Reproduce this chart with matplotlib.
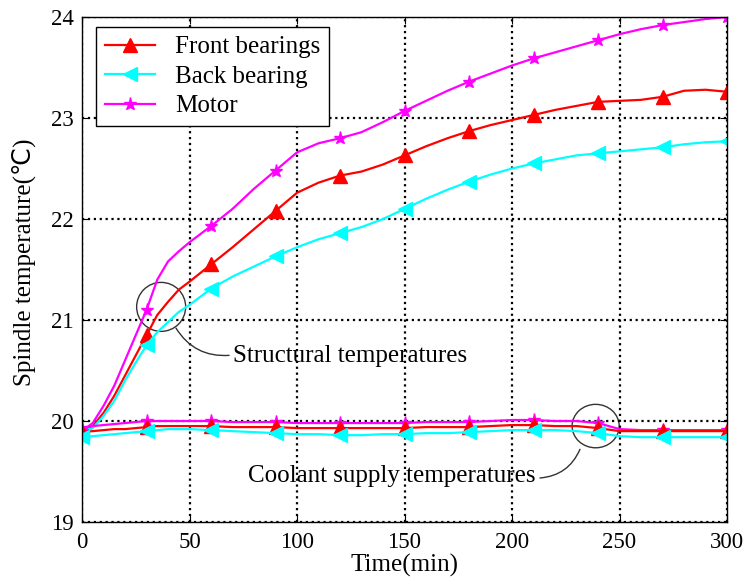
import numpy as np
import matplotlib
matplotlib.use("Agg")
import matplotlib.pyplot as plt
from matplotlib.patches import Ellipse

plt.rcParams['font.family'] = ['Liberation Serif', 'DejaVu Sans']

# tiempo (min)
tiempo = [0, 5, 10, 15, 20, 25, 30, 35, 40, 45, 50, 60, 70, 80, 90, 100, 110, 120,
          130, 140, 150, 160, 170, 180, 190, 200, 210, 220, 230, 240, 250, 260,
          270, 280, 290, 300]

# temperaturas estructurales
front_struct = [19.9, 19.95, 20.08, 20.25, 20.45, 20.65, 20.85, 21.05, 21.18, 21.3, 21.38,
                21.55, 21.72, 21.9, 22.08, 22.26, 22.36, 22.43, 22.47, 22.54, 22.63,
                22.72, 22.8, 22.87, 22.93, 22.98, 23.03, 23.08, 23.12, 23.16, 23.17,
                23.18, 23.21, 23.27, 23.28, 23.26]
back_struct = [19.88, 19.93, 20.05, 20.2, 20.4, 20.58, 20.75, 20.88, 20.98, 21.08, 21.15,
               21.31, 21.43, 21.53, 21.63, 21.72, 21.8, 21.86, 21.92, 22.0, 22.1,
               22.2, 22.29, 22.37, 22.44, 22.5, 22.55, 22.59, 22.63, 22.65, 22.67,
               22.69, 22.71, 22.74, 22.76, 22.77]
motor_struct = [19.9, 19.98, 20.15, 20.35, 20.6, 20.85, 21.1, 21.4, 21.58, 21.68, 21.77,
                21.93, 22.1, 22.3, 22.48, 22.66, 22.75, 22.8, 22.86, 22.96, 23.07,
                23.17, 23.27, 23.36, 23.44, 23.52, 23.59, 23.65, 23.71, 23.77, 23.83,
                23.88, 23.92, 23.95, 23.98, 24.0]

# temperaturas del refrigerante
front_cool = [19.89, 19.9, 19.91, 19.92, 19.92, 19.93, 19.94, 19.95, 19.95, 19.95, 19.95,
              19.95, 19.94, 19.94, 19.94, 19.93, 19.93, 19.93, 19.93, 19.93, 19.93,
              19.94, 19.94, 19.94, 19.95, 19.96, 19.96, 19.95, 19.95, 19.93, 19.9,
              19.9, 19.9, 19.9, 19.9, 19.9]
back_cool = [19.84, 19.85, 19.86, 19.87, 19.88, 19.89, 19.9, 19.91, 19.92, 19.92, 19.92,
             19.91, 19.9, 19.89, 19.88, 19.87, 19.87, 19.86, 19.86, 19.87, 19.87,
             19.88, 19.88, 19.89, 19.9, 19.91, 19.91, 19.91, 19.9, 19.88, 19.85,
             19.84, 19.84, 19.84, 19.84, 19.84]
motor_cool = [19.93, 19.95, 19.96, 19.97, 19.98, 19.99, 20.0, 20.0, 20.0, 20.0, 20.0,
              20.0, 19.99, 19.99, 19.99, 19.98, 19.98, 19.98, 19.98, 19.98, 19.98,
              19.99, 19.99, 19.99, 20.0, 20.01, 20.01, 20.0, 20.0, 19.98, 19.92,
              19.91, 19.91, 19.91, 19.91, 19.91]

t = np.array(tiempo)
marcas = list(np.where(t % 30 == 0)[0])

fig = plt.figure(figsize=(7.43, 5.87), dpi=100)
ax = fig.add_axes([0.1104, 0.1107, 0.8681, 0.8603])

estilo = dict(lw=1.6, markevery=marcas, markersize=9.5)
ax.plot(t, front_struct, color='#ff0000', marker='^', label='Front bearings', **estilo)
ax.plot(t, back_struct, color='#00ffff', marker='<', label='Back bearing', **estilo)
ax.plot(t, motor_struct, color='#ff00ff', marker='*', label='Motor', **estilo)
ax.plot(t, motor_cool, color='#ff00ff', marker='*', **estilo)
ax.plot(t, front_cool, color='#ff0000', marker='^', **estilo)
ax.plot(t, back_cool, color='#00ffff', marker='<', **estilo)

ax.set_xlim(0, 300)
ax.set_ylim(19, 24)
ax.set_xticks([0, 50, 100, 150, 200, 250, 300])
ax.set_yticks([19, 20, 21, 22, 23, 24])
ax.grid(True, color='black', linestyle=':', linewidth=1.6)
ax.tick_params(direction='in', top=True, right=True, labelsize=16.5, length=5)
ax.tick_params(axis='x', pad=7)
ax.tick_params(axis='y', pad=6)
for s in ax.spines.values():
    s.set_linewidth(1.0)

ax.set_xlabel('Time(min)', fontsize=18, labelpad=1)
ax.set_ylabel('Spindle temperature(℃)', fontsize=18)
ax.yaxis.set_label_coords(-0.072, 0.515)

leg = ax.legend(loc='upper left', bbox_to_anchor=(0.022, 0.98), borderaxespad=0,
                fontsize=18, fancybox=False, edgecolor='black', framealpha=1,
                handlelength=2.0, handletextpad=0.8, labelspacing=0.28,
                borderpad=0.35)
leg.get_frame().set_linewidth(1.0)

# anotaciones
gris = '#333333'
ax.add_patch(Ellipse((36.8, 21.13), 22.8, 0.485, fill=False, edgecolor=gris, lw=1.0))
ax.annotate('', xy=(68.4, 20.65), xytext=(43.7, 20.92),
            arrowprops=dict(arrowstyle='-', color=gris, lw=1.0,
                            connectionstyle='arc3,rad=0.3', shrinkA=0, shrinkB=0))
ax.text(70.2, 20.64, 'Structural temperatures', fontsize=18, va='center', ha='left')

ax.add_patch(Ellipse((238.9, 19.95), 21.9, 0.43, fill=False, edgecolor=gris, lw=1.0))
ax.annotate('', xy=(231.6, 19.72), xytext=(213.0, 19.436),
            arrowprops=dict(arrowstyle='-', color=gris, lw=1.0,
                            connectionstyle='arc3,rad=0.3', shrinkA=0, shrinkB=0))
ax.text(210.7, 19.455, 'Coolant supply temperatures', fontsize=18, va='center', ha='right')

fig.savefig('out.png', dpi=100)
